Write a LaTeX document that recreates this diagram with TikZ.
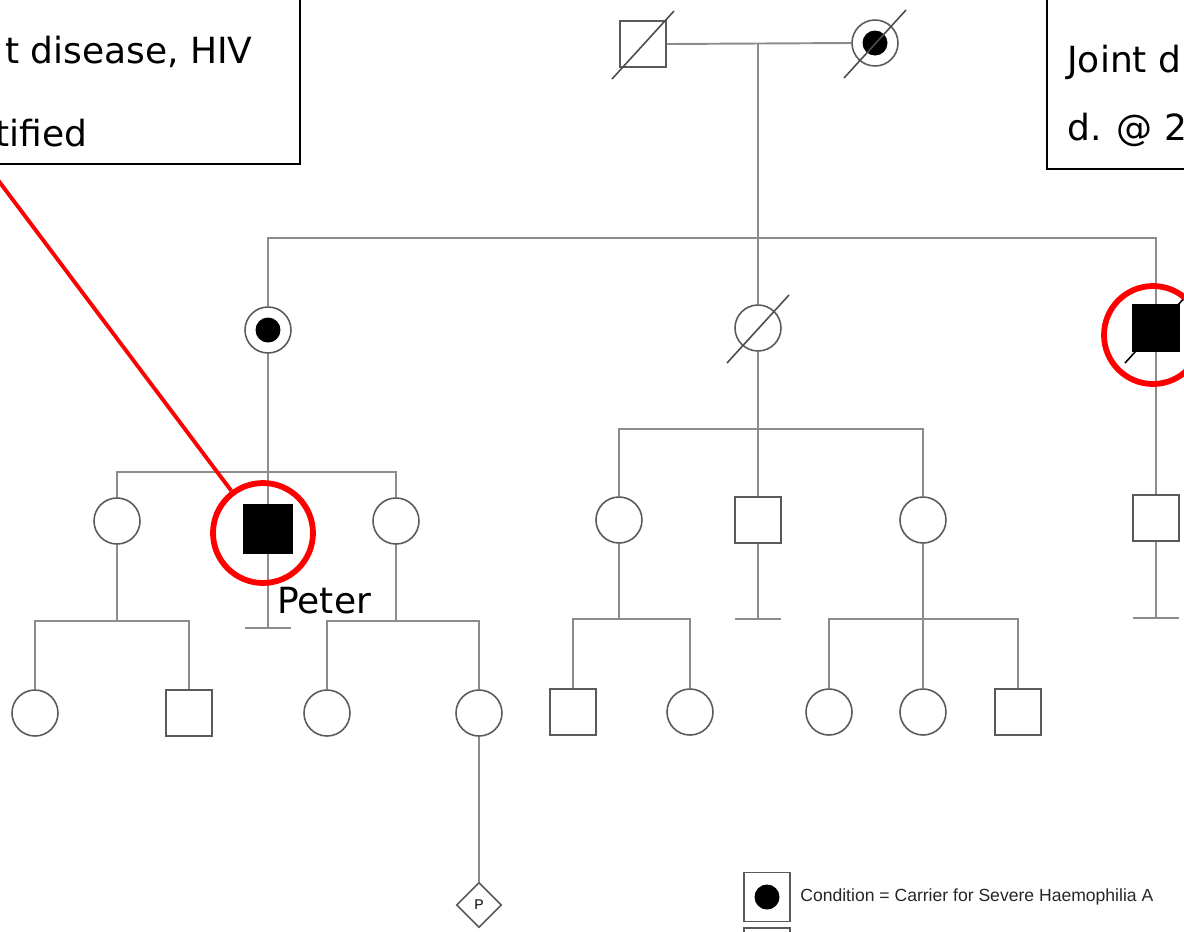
\documentclass[tikz,border=0pt]{standalone}
\usepackage{fontspec}
\setmainfont{DejaVu Sans}
\newfontfamily\keyfont{Liberation Sans}
\usepackage{xcolor}
\usetikzlibrary{shapes.geometric}

\definecolor{pedline}{HTML}{8C8C8C}
\definecolor{symline}{HTML}{5A5A5A}

\begin{document}
\begin{tikzpicture}[x=0.02cm, y=-0.02cm,
  ped/.style={pedline, line width=1.1pt},
  female/.style={circle, draw=symline, line width=0.9pt, minimum size=0.92cm, inner sep=0pt},
  male/.style={rectangle, draw=symline, line width=0.9pt, minimum size=0.92cm, inner sep=0pt},
  affected/.style={fill=black, draw=black},
  carrier/.style={path picture={\fill[black] (path picture bounding box.center) circle (0.25cm);}},
  unknown/.style={diamond, draw=symline, line width=0.9pt, minimum size=0.9cm, inner sep=0pt, font=\keyfont\fontsize{8}{9}\selectfont},
  ring/.style={circle, draw=red, line width=3.3pt, minimum size=2cm, inner sep=0pt},
  pointer/.style={red, line width=2.2pt},
  frame/.style={black, line width=1pt},
  note/.style={font=\fontsize{20.5}{24}\selectfont, inner sep=0pt}]
\useasboundingbox (0,0) rectangle (1184,931);
\clip (0,0) rectangle (1184,931);

% text boxes, cut by the edge
\draw[frame] (-100,-20) rectangle (300,164);
\node[note, anchor=base east] (ltext1) at (253,63) {t disease, HIV};
\node[note, anchor=base east] (ltext2) at (88,146) {tified};
\draw[frame] (1047,-20) rectangle (1300,169);
\node[note, anchor=base west] (rtext1) at (1067,72) {Joint d};
\node[note, anchor=base west] (rtext2) at (1067,140) {d. @ 2};

% generation I
\node[male] (I1) at (643,44) {};
\node[female, carrier] (I2) at (875,43) {};
% generation II
\node[female, carrier] (II1) at (268,330) {};
\node[female] (II2) at (758,328) {};
\node[male, affected] (II3) at (1156,328) {};
% generation III
\node[female] (III1) at (117,521) {};
\node[male, affected, minimum size=0.95cm] (III2) at (268,529) {};
\node[female] (III3) at (396,521) {};
\node[female] (III4) at (619,520) {};
\node[male] (III5) at (758,520) {};
\node[female] (III6) at (923,520) {};
\node[male] (III7) at (1156,518) {};
% generation IV
\node[female] (IV1) at (35,713) {};
\node[male] (IV2) at (189,713) {};
\node[female] (IV3) at (327,713) {};
\node[female] (IV4) at (479,713) {};
\node[male] (IV5) at (573,712) {};
\node[female] (IV6) at (690,712) {};
\node[female] (IV7) at (829,712) {};
\node[female] (IV8) at (923,712) {};
\node[male] (IV9) at (1018,712) {};
\node[unknown] (V1) at (479,905) {P};

\coordinate (sibII) at (758,238);
\coordinate (sibIIIa) at (268,472);
\coordinate (sibIIIb) at (758,429);
\coordinate (sibIVa) at (117,621);
\coordinate (sibIVb) at (396,621);
\coordinate (sibIVc) at (619,619);
\coordinate (sibIVd) at (923,619);
\coordinate (barP) at (268,628);
\coordinate (barQ) at (758,619);
\coordinate (barR) at (1156,618);

\draw[ped] (I1.east) -- (I2.west);
\draw[ped] (II2 |- I1) -- (II2.north);
\draw[ped] (II1.north) |- (sibII) -| (II3.north);

\draw[ped] (II1.south) -- (III2.north);
\draw[ped] (III1.north) |- (sibIIIa) -| (III3.north);
\draw[ped] (II2.south) -- (III5.north);
\draw[ped] (III4.north) |- (sibIIIb) -| (III6.north);
\draw[ped] (II3.south) -- (III7.north);

\draw[ped] (III2.south) -- (barP) ++(-23,0) -- ++(46,0);
\draw[ped] (III5.south) -- (barQ) ++(-23,0) -- ++(46,0);
\draw[ped] (III7.south) -- (barR) ++(-23,0) -- ++(46,0);

\draw[ped] (III1.south) -- (sibIVa);
\draw[ped] (IV1.north) |- (sibIVa) -| (IV2.north);
\draw[ped] (III3.south) -- (sibIVb);
\draw[ped] (IV3.north) |- (sibIVb) -| (IV4.north);
\draw[ped] (III4.south) -- (sibIVc);
\draw[ped] (IV5.north) |- (sibIVc) -| (IV6.north);
\draw[ped] (III6.south) -- (IV8.north);
\draw[ped] (IV7.north) |- (sibIVd) -| (IV9.north);
\draw[ped] (IV4.south) -- (V1.north);

% deceased
\foreach \n/\c in {I1/black!70, I2/black!70, II2/black!70, II3/black}
  \draw[\c, line width=0.9pt] (\n.center) ++(-31,35) -- ++(62,-68);

% highlights
\node[ring] (pring) at (263,533) {};
\node[ring, minimum size=1.96cm] (uring) at (1153,335) {};
\coordinate (lcorner) at (-14,164);
\draw[pointer] (lcorner) -- (pring);
\node[note, anchor=base west] (peter) at (277,613) {Peter};

% key
\node[male, carrier, minimum height=0.98cm] (key) at (767,897) {};
\node[anchor=west, inner sep=0pt, black!85, font=\keyfont\fontsize{10}{12}\selectfont] (keytext) at (800,897) {Condition = Carrier for Severe Haemophilia A};
\draw[symline, line width=0.9pt] (744,928) rectangle (790,975);
\end{tikzpicture}
\end{document}
